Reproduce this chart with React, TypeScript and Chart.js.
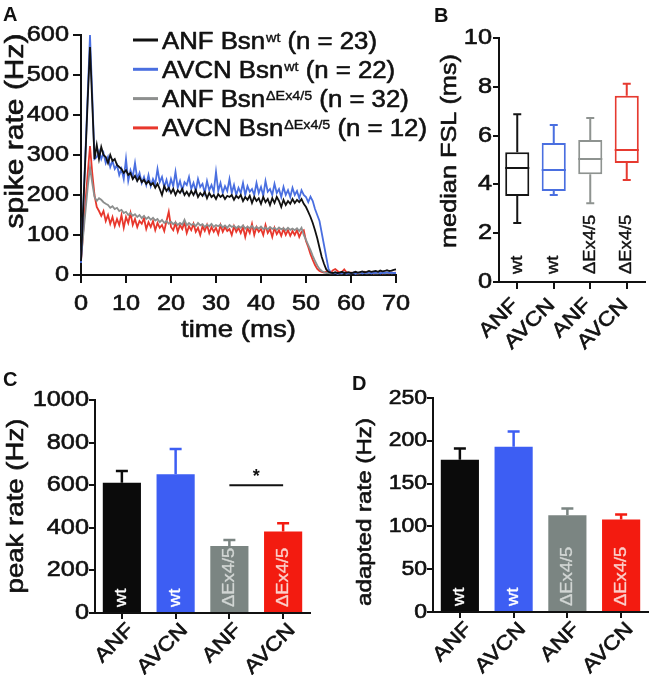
import React, { useEffect, useRef } from 'react';
import { Chart, registerables } from 'chart.js';
Chart.register(...registerables);

const W = 653;
const H = 675;
const FONT = '"Liberation Sans", Arial, Helvetica, sans-serif';
const HS = 1.15;
const INK = '#111111';

// ---------- Panel A: PSTH (0.5 ms bins) ----------
const TIME_STEP_MS = 0.5;
const anfWt = [
  35, 170, 300, 440, 570, 430, 290, 325, 290, 320, 300,
  295, 280, 300, 285, 290, 275, 270, 265, 255, 262,
  250, 255, 240, 248, 235, 245, 232, 238, 228, 235,
  225, 230, 218, 228, 215, 200, 222, 210, 218, 205,
  215, 200, 212, 205, 215, 200, 208, 198, 210, 200,
  212, 195, 205, 198, 208, 192, 205, 195, 200, 190,
  202, 195, 200, 190, 198, 195, 200, 188, 198, 192,
  200, 185, 195, 188, 198, 180, 195, 185, 192, 178,
  195, 182, 190, 175, 192, 180, 195, 185, 170, 188,
  175, 185, 178, 190, 180, 188, 182, 190, 178, 170,
  158, 145, 130, 112, 92, 68, 45, 28, 14, 8,
  6, 5, 7, 5, 6, 8, 5, 6, 7, 5,
  6, 8, 6, 7, 9, 7, 8, 10, 8, 9,
  10, 8, 11, 9, 10, 12, 10, 11, 13, 14,
];
const avcnWt = [
  30, 170, 310, 455, 600, 450, 290, 295, 310, 290, 305,
  280, 295, 270, 285, 265, 275, 250, 265, 240, 290,
  235, 262, 245, 280, 240, 255, 230, 245, 225, 250,
  222, 240, 228, 265, 232, 245, 220, 238, 215, 240,
  222, 258, 218, 235, 212, 232, 225, 245, 215, 230,
  210, 240, 220, 228, 205, 235, 212, 225, 208, 258,
  210, 230, 205, 222, 210, 240, 205, 225, 200, 218,
  205, 230, 200, 222, 208, 215, 200, 230, 205, 220,
  198, 235, 208, 215, 200, 228, 205, 215, 195, 220,
  200, 212, 195, 218, 200, 210, 192, 212, 200, 195,
  182, 196, 185, 165, 150, 135, 105, 75, 45, 15,
  6, 4, 5, 3, 5, 4, 6, 3, 5, 4,
  6, 3, 5, 7, 4, 6, 5, 7, 4, 6,
  5, 7, 4, 6, 5, 7, 5, 6, 5, 5,
];
const anfDel = [
  40, 100, 160, 220, 270, 230, 195, 185, 192, 188, 182,
  178, 175, 168, 172, 165, 168, 160, 163, 155, 158,
  150, 155, 148, 152, 145, 150, 142, 148, 140, 145,
  138, 143, 136, 140, 132, 138, 130, 135, 128, 133,
  127, 132, 125, 130, 126, 138, 124, 130, 125, 128,
  122, 130, 124, 127, 120, 126, 122, 128, 120, 125,
  122, 126, 119, 124, 118, 125, 120, 123, 117, 122,
  118, 124, 116, 121, 117, 123, 115, 120, 116, 121,
  115, 119, 114, 120, 115, 118, 113, 119, 114, 117,
  112, 118, 113, 116, 112, 117, 110, 118, 100, 88,
  75, 62, 48, 35, 24, 15, 10, 7, 5, 5,
  4, 5, 6, 4, 5, 4, 6, 5, 4, 5,
  6, 4, 5, 4, 6, 5, 4, 5, 6, 4,
  5, 4, 6, 5, 4, 5, 6, 4, 5, 5,
];
const avcnDel = [
  35, 110, 185, 255, 322, 255, 200, 170, 160, 148, 160,
  135, 150, 128, 145, 122, 140, 125, 150, 118, 145,
  130, 155, 125, 140, 120, 135, 128, 142, 115, 132,
  120, 135, 112, 130, 118, 125, 110, 135, 158, 120,
  112, 130, 108, 125, 115, 132, 105, 122, 112, 128,
  108, 118, 100, 122, 110, 125, 105, 120, 108, 118,
  102, 125, 108, 120, 110, 115, 100, 122, 108, 118,
  105, 120, 95, 118, 105, 128, 100, 120, 108, 115,
  100, 125, 105, 115, 95, 118, 102, 112, 98, 115,
  100, 112, 98, 110, 100, 112, 95, 108, 112, 85,
  70, 52, 38, 25, 15, 10, 8, 6, 8, 5,
  6, 12, 15, 10, 6, 8, 14, 7, 5, 6,
  5, 7, 4, 6, 5, 8, 6, 5, 7, 4,
  6, 5, 7, 4, 6, 5, 4, 6, 5, 6,
];
const LEGEND_NAMES = ['ANF Bsn', 'AVCN Bsn', 'ANF Bsn', 'AVCN Bsn'];
const LEGEND_SUPS = ['wt', 'wt', 'ΔEx4/5', 'ΔEx4/5'];
const LEGEND_N = [23, 22, 32, 12];
const LINE_COLORS = ['#111111', '#4a6fe0', '#8d8f8e', '#e8372c'];

// ---------- Groups (B, C, D) ----------
const GROUPS = ['ANF', 'AVCN', 'ANF', 'AVCN'];
const GENOTYPES = ['wt', 'wt', 'ΔEx4/5', 'ΔEx4/5'];

// Panel B: median first-spike latency (ms), box plot
const fslMin = [2.42, 3.57, 3.23, 4.18];
const fslQ1 = [3.52, 3.73, 4.42, 4.88];
const fslMedian = [4.67, 4.59, 5.04, 5.41];
const fslQ3 = [5.32, 5.7, 5.82, 7.63];
const fslMax = [6.88, 6.43, 6.72, 8.12];
const BOX_COLORS = ['#151515', '#4a6fe0', '#8e9390', '#e63a30'];

// Panel C: peak rate (Hz), mean + SEM
const peakMean = [612, 651, 315, 383];
const peakSem = [55, 119, 28, 38];
const PEAK_SIG_LEVEL = 600;

// Panel D: adapted rate (Hz), mean + SEM
const adaptedMean = [178, 193, 113, 108];
const adaptedSem = [13, 18, 8, 6];

const BAR_COLORS = ['#0b0b0b', '#3d5ef3', '#7b8582', '#f31b10'];
const BAR_TEXT = ['#ffffff', '#ffffff', '#d2d6d4', '#fbd0cb'];

// ---------- helpers ----------
type TOpt = {
  size: number;
  hs?: number;
  color?: string;
  align?: CanvasTextAlign;
  baseline?: CanvasTextBaseline;
  rot?: number;
  bold?: boolean;
  stroke?: number;
};
function text(ctx: CanvasRenderingContext2D, s: string, x: number, y: number, o: TOpt): number {
  const hs = o.hs ?? HS;
  ctx.save();
  ctx.translate(x, y);
  if (o.rot) ctx.rotate(o.rot);
  ctx.scale(hs, 1);
  ctx.font = `${o.bold ? 'bold ' : ''}${o.size}px ${FONT}`;
  ctx.fillStyle = o.color ?? INK;
  ctx.textAlign = o.align ?? 'left';
  ctx.textBaseline = o.baseline ?? 'alphabetic';
  ctx.fillText(s, 0, 0);
  const sw = o.stroke ?? (o.bold ? 0 : 0.6);
  if (sw > 0) {
    ctx.strokeStyle = o.color ?? INK;
    ctx.lineWidth = sw;
    ctx.lineJoin = 'round';
    ctx.strokeText(s, 0, 0);
  }
  const w = ctx.measureText(s).width * hs;
  ctx.restore();
  return w;
}

const AX = 12;
function frame(l: number, r: number, t: number, b: number) {
  return {
    padding: { left: l - AX, right: W - r, top: t, bottom: H - b - AX },
    yFit: (s: any) => {
      s.width = AX;
    },
    xFit: (s: any) => {
      s.height = AX;
    },
  };
}
function axis(tickLength: number, fit: (s: any) => void, extra: any = {}) {
  return {
    afterFit: fit,
    grid: {
      display: true,
      drawOnChartArea: false,
      drawTicks: true,
      tickLength,
      color: INK,
      lineWidth: 2,
      ...(extra.grid || {}),
    },
    border: { display: true, color: INK, width: 2 },
    ticks: { display: false, ...(extra.ticks || {}) },
    ...(extra.rest || {}),
  };
}
const baseOpts = (padding: any) => ({
  responsive: false,
  animation: false as const,
  events: [] as any[],
  layout: { padding },
  plugins: { legend: { display: false }, tooltip: { enabled: false }, title: { display: false } },
});

function yTickLabels(chart: any, rightX: number, size: number) {
  const ys = chart.scales.y;
  ys.ticks.forEach((t: any) =>
    text(chart.ctx, String(t.value), rightX, ys.getPixelForValue(t.value), { size, align: 'right', baseline: 'middle' })
  );
}
function groupLabels(chart: any, dx: number, dy: number, size: number) {
  const xs = chart.scales.x;
  const b = chart.chartArea.bottom;
  GROUPS.forEach((g, i) =>
    text(chart.ctx, g, xs.getPixelForValue(i) + dx, b + dy, { size, align: 'right', baseline: 'middle', rot: -Math.PI / 4 })
  );
}

// ---------- chart configs ----------
function makeA() {
  const f = frame(81, 396, 35, 275);
  const series = [anfWt, avcnWt, anfDel, avcnDel];
  const plugin = {
    id: 'textA',
    afterDraw(chart: any) {
      const ctx = chart.ctx as CanvasRenderingContext2D;
      const { left, right, bottom } = chart.chartArea;
      const xs = chart.scales.x;
      yTickLabels(chart, left - 12, 22);
      xs.ticks.forEach((t: any) =>
        text(ctx, String(t.value), xs.getPixelForValue(t.value), bottom + 35, { size: 22, align: 'center' })
      );
      text(ctx, 'time (ms)', (left + right) / 2, bottom + 62, { size: 24, align: 'center' });
      text(ctx, 'spike rate (Hz)', 23, 131, { size: 25, hs: 1.2, align: 'center', rot: -Math.PI / 2 });
      // legend
      LEGEND_NAMES.forEach((name, i) => {
        const ly = 40 + i * 29.3;
        ctx.save();
        ctx.strokeStyle = LINE_COLORS[i];
        ctx.lineWidth = 3;
        ctx.beginPath();
        ctx.moveTo(133, ly);
        ctx.lineTo(158, ly);
        ctx.stroke();
        ctx.restore();
        let x = 162;
        const base = ly + 8.5;
        x += text(ctx, name, x, base, { size: 23, hs: 1.12 });
        x += 1;
        x += text(ctx, LEGEND_SUPS[i], x, base - 7, { size: 13, hs: 1.1, stroke: 0.4 });
        text(ctx, ` (n = ${LEGEND_N[i]})`, x, base, { size: 23, hs: 1.12 });
      });
      text(ctx, 'A', 3, 21, { size: 20, bold: true, hs: 1 });
    },
  };
  return {
    type: 'line',
    data: {
      datasets: series.map((s, k) => ({
        data: s.map((v, j) => ({ x: j * TIME_STEP_MS, y: v })),
        borderColor: LINE_COLORS[k],
        borderWidth: 1.8,
        pointRadius: 0,
        tension: 0,
        fill: false,
        clip: 4,
      })),
    },
    options: {
      ...baseOpts(f.padding),
      scales: {
        x: axis(8, f.xFit, { rest: { type: 'linear', min: 0, max: 70 }, ticks: { stepSize: 10 } }),
        y: axis(8, f.yFit, { rest: { min: 0, max: 600 }, ticks: { stepSize: 100 } }),
      },
    },
    plugins: [plugin],
  };
}

function makeB() {
  const f = frame(499, 645, 38, 282);
  const plugin = {
    id: 'boxB',
    afterDatasetsDraw(chart: any) {
      const ctx = chart.ctx as CanvasRenderingContext2D;
      const ys = chart.scales.y;
      const meta = chart.getDatasetMeta(0);
      meta.data.forEach((bar: any, i: number) => {
        const x = bar.x;
        const hw = bar.width / 2;
        const yv = (v: number) => ys.getPixelForValue(v);
        ctx.save();
        ctx.strokeStyle = BOX_COLORS[i];
        ctx.lineWidth = 2;
        ctx.beginPath();
        ctx.moveTo(x - hw, yv(fslMedian[i]));
        ctx.lineTo(x + hw, yv(fslMedian[i]));
        ctx.moveTo(x, yv(fslQ3[i]));
        ctx.lineTo(x, yv(fslMax[i]));
        ctx.moveTo(x - 4, yv(fslMax[i]));
        ctx.lineTo(x + 4, yv(fslMax[i]));
        ctx.moveTo(x, yv(fslQ1[i]));
        ctx.lineTo(x, yv(fslMin[i]));
        ctx.moveTo(x - 4, yv(fslMin[i]));
        ctx.lineTo(x + 4, yv(fslMin[i]));
        ctx.stroke();
        ctx.restore();
      });
    },
    afterDraw(chart: any) {
      const ctx = chart.ctx as CanvasRenderingContext2D;
      const { left, bottom } = chart.chartArea;
      const xs = chart.scales.x;
      yTickLabels(chart, left - 7, 22);
      text(ctx, 'median FSL (ms)', 456, 151, { size: 22, align: 'center', rot: -Math.PI / 2 });
      GENOTYPES.forEach((g, i) =>
        text(ctx, g, xs.getPixelForValue(i), bottom - 8, {
          size: 16,
          align: 'left',
          baseline: 'middle',
          rot: -Math.PI / 2,
          stroke: 0.4,
        })
      );
      groupLabels(chart, -2, 20, 20);
      text(ctx, 'B', 434, 22, { size: 20, bold: true, hs: 1 });
    },
  };
  return {
    type: 'bar',
    data: {
      labels: GROUPS,
      datasets: [
        {
          data: fslQ1.map((q, i) => [q, fslQ3[i]]),
          backgroundColor: '#ffffff',
          borderColor: BOX_COLORS,
          borderWidth: 2,
          borderSkipped: false,
          barPercentage: 0.66,
          categoryPercentage: 1,
        },
      ],
    },
    options: {
      ...baseOpts(f.padding),
      scales: {
        x: axis(7, f.xFit, { grid: { offset: false } }),
        y: axis(6, f.yFit, { rest: { min: 0, max: 10 }, ticks: { stepSize: 2 } }),
      },
    },
    plugins: [plugin],
  };
}

function makeBars(opts: {
  area: [number, number, number, number];
  mean: number[];
  sem: number[];
  max: number;
  step: number;
  title: string;
  titleX: number;
  titleY: number;
  titleSize: number;
  tickSize: number;
  letter: string;
  letterPos: [number, number];
  sig?: number;
}) {
  const [l, r, t, b] = opts.area;
  const f = frame(l, r, t, b);
  const plugin = {
    id: 'bars' + opts.letter,
    afterDatasetsDraw(chart: any) {
      const ctx = chart.ctx as CanvasRenderingContext2D;
      const ys = chart.scales.y;
      const meta = chart.getDatasetMeta(0);
      meta.data.forEach((bar: any, i: number) => {
        const x = bar.x;
        const y0 = ys.getPixelForValue(opts.mean[i]);
        const y1 = ys.getPixelForValue(opts.mean[i] + opts.sem[i]);
        ctx.save();
        ctx.strokeStyle = BAR_COLORS[i];
        ctx.lineWidth = 2.5;
        ctx.beginPath();
        ctx.moveTo(x, y0);
        ctx.lineTo(x, y1);
        ctx.moveTo(x - 6, y1);
        ctx.lineTo(x + 6, y1);
        ctx.stroke();
        ctx.restore();
      });
    },
    afterDraw(chart: any) {
      const ctx = chart.ctx as CanvasRenderingContext2D;
      const { left, bottom } = chart.chartArea;
      const xs = chart.scales.x;
      const ys = chart.scales.y;
      yTickLabels(chart, left - 6, opts.tickSize);
      text(ctx, opts.title, opts.titleX, opts.titleY, { size: opts.titleSize, align: 'center', rot: -Math.PI / 2 });
      GENOTYPES.forEach((g, i) =>
        text(ctx, g, xs.getPixelForValue(i), bottom - 6, {
          size: 16,
          align: 'left',
          baseline: 'middle',
          rot: -Math.PI / 2,
          color: BAR_TEXT[i],
          stroke: 0.3,
        })
      );
      groupLabels(chart, 9, 14, 20);
      if (opts.sig !== undefined) {
        const y = ys.getPixelForValue(opts.sig);
        const x1 = xs.getPixelForValue(2);
        const x2 = xs.getPixelForValue(3);
        ctx.save();
        ctx.strokeStyle = INK;
        ctx.lineWidth = 2;
        ctx.beginPath();
        ctx.moveTo(x1, y);
        ctx.lineTo(x2, y);
        ctx.stroke();
        ctx.restore();
        text(ctx, '*', (x1 + x2) / 2, y - 8, { size: 18, bold: true, align: 'center', baseline: 'middle', hs: 1 });
      }
      text(ctx, opts.letter, opts.letterPos[0], opts.letterPos[1], { size: 20, bold: true, hs: 1 });
    },
  };
  return {
    type: 'bar',
    data: {
      labels: GROUPS,
      datasets: [
        {
          data: opts.mean,
          backgroundColor: BAR_COLORS,
          borderWidth: 0,
          barPercentage: 0.71,
          categoryPercentage: 1,
        },
      ],
    },
    options: {
      ...baseOpts(f.padding),
      scales: {
        x: axis(6, f.xFit, { grid: { offset: false } }),
        y: axis(6, f.yFit, { rest: { min: 0, max: opts.max }, ticks: { stepSize: opts.step } }),
      },
    },
    plugins: [plugin],
  };
}

const makeC = () =>
  makeBars({
    area: [95, 310, 400, 613],
    mean: peakMean,
    sem: peakSem,
    max: 1000,
    step: 200,
    title: 'peak rate (Hz)',
    titleX: 23,
    titleY: 506,
    titleSize: 24,
    tickSize: 22,
    letter: 'C',
    letterPos: [3, 386],
    sig: PEAK_SIG_LEVEL,
  });
const makeD = () =>
  makeBars({
    area: [433, 648, 398, 612],
    mean: adaptedMean,
    sem: adaptedSem,
    max: 250,
    step: 50,
    title: 'adapted rate (Hz)',
    titleX: 371,
    titleY: 512,
    titleSize: 21,
    tickSize: 20,
    letter: 'D',
    letterPos: [352, 390],
  });

function ChartCanvas({ make }: { make: () => any }) {
  const ref = useRef<HTMLCanvasElement>(null);
  useEffect(() => {
    const c = new Chart(ref.current as HTMLCanvasElement, make());
    return () => c.destroy();
  }, [make]);
  return <canvas ref={ref} width={W} height={H} style={{ position: 'absolute', left: 0, top: 0 }} />;
}

export default function App() {
  return (
    <div style={{ position: 'fixed', left: 0, top: 0, width: W, height: H, background: '#ffffff' }}>
      <ChartCanvas make={makeA} />
      <ChartCanvas make={makeB} />
      <ChartCanvas make={makeC} />
      <ChartCanvas make={makeD} />
    </div>
  );
}
